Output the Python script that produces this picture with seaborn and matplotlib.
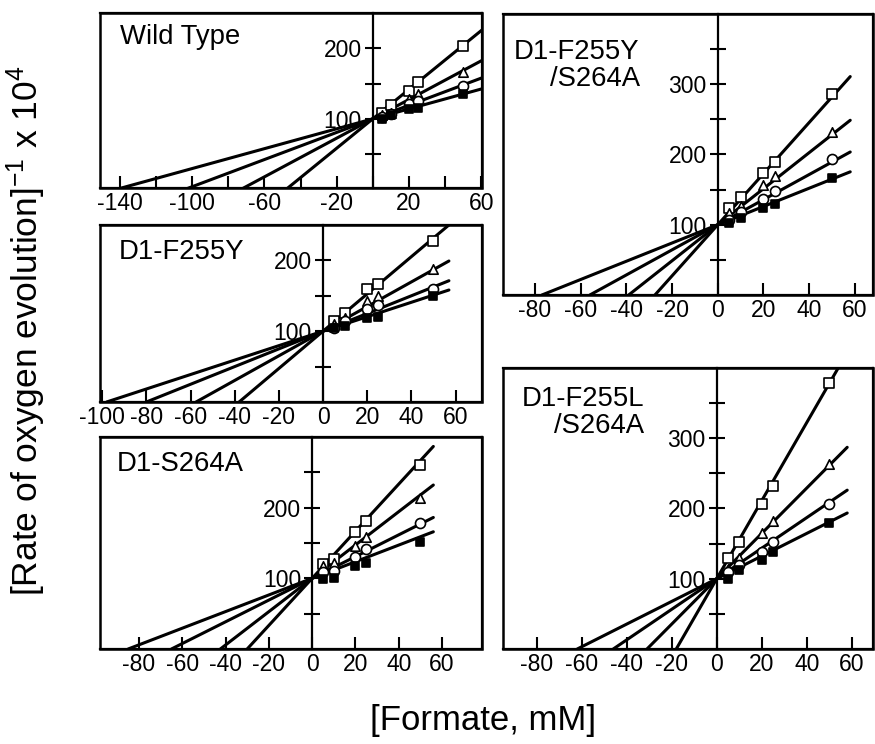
import numpy as np
import pandas as pd
import matplotlib
matplotlib.use("Agg")
import matplotlib.pyplot as plt
from matplotlib.ticker import FixedLocator, FuncFormatter
import seaborn as sns

# formate concentrations (mM) where the rates were measured
conc = [5, 10, 20, 25, 50]
series_names = ["open square", "open triangle", "open circle", "filled square"]

# reciprocal rates, one list per symbol
wt_vals = [[109, 120, 139, 152, 203],
           [105, 109, 128, 135, 166],
           [102, 107, 121, 126, 146],
           [100, 105, 114, 116, 135]]
f255y_vals = [[114, 126, 159, 166, 227],
              [110, 119, 143, 149, 188],
              [105, 114, 131, 137, 160],
              [105, 108, 119, 120, 149]]
s264a_vals = [[120, 128, 165, 181, 261],
              [117, 122, 146, 159, 214],
              [109, 111, 130, 142, 178],
              [99, 101, 118, 122, 152]]
f255y_s264a_vals = [[124, 140, 174, 189, 286],
                    [117, 127, 157, 169, 232],
                    [107, 118, 137, 148, 193],
                    [103, 110, 124, 130, 166]]
f255l_s264a_vals = [[130, 153, 207, 232, 378],
                    [114, 129, 165, 182, 263],
                    [109, 119, 138, 153, 207],
                    [100, 112, 126, 138, 180]]

# x-intercepts (-Ki) of the fitted lines, all lines share the value 100 at x = 0
common_y0 = 100
wt_xint = [-48, -73, -104, -142]
f255y_xint = [-38, -57.5, -80, -98]
s264a_xint = [-30, -42.4, -65, -85]
f255y_s264a_xint = [-27.5, -39, -56, -77]
f255l_s264a_xint = [-18, -31, -46, -62]

panels = [
    dict(name="Wild Type", vals=wt_vals, xint=wt_xint, xlim=(-151, 60.5), ylim=(2, 250),
         xticks=list(range(-140, 61, 20)), xlabels=list(range(-140, 61, 40)), xend=62,
         rect=[0.1143, 0.7473, 0.4366, 0.2352], title_xy=(0.052, 0.94)),
    dict(name="D1-F255Y", vals=f255y_vals, xint=f255y_xint, xlim=(-101, 72), ylim=(0, 250),
         xticks=list(range(-100, 61, 20)), xlabels=list(range(-100, 61, 20)), xend=57,
         rect=[0.1143, 0.4597, 0.4366, 0.2379], title_xy=(0.048, 0.92)),
    dict(name="D1-S264A", vals=s264a_vals, xint=s264a_xint, xlim=(-98, 78.5), ylim=(0, 300),
         xticks=list(range(-80, 61, 20)), xlabels=list(range(-80, 61, 20)), xend=56,
         rect=[0.1143, 0.1277, 0.4366, 0.2849], title_xy=(0.045, 0.935)),
    dict(name="D1-F255Y\n/S264A", vals=f255y_s264a_vals, xint=f255y_s264a_xint, xlim=(-94, 68),
         ylim=(0, 400), xticks=list(range(-80, 61, 20)), xlabels=list(range(-80, 61, 20)), xend=58,
         rect=[0.5749, 0.6035, 0.4229, 0.3777], title_xy=(0.03, 0.91)),
    dict(name="D1-F255L\n/S264A", vals=f255l_s264a_vals, xint=f255l_s264a_xint, xlim=(-95, 69.5),
         ylim=(0, 400), xticks=list(range(-80, 61, 20)), xlabels=list(range(-80, 61, 20)), xend=58,
         rect=[0.5749, 0.1277, 0.4229, 0.3777], title_xy=(0.05, 0.935)),
]

markers = ["s", "^", "o", "s"]
faces = ["white", "white", "white", "black"]
sizes = [46, 46, 52, 40]

sns.set_style("ticks")
plt.rcParams["font.family"] = ["Liberation Sans", "DejaVu Sans"]
plt.rcParams["mathtext.fontset"] = "custom"
plt.rcParams["mathtext.rm"] = "Liberation Sans"
plt.rcParams["mathtext.it"] = "Liberation Sans"
plt.rcParams["text.color"] = "black"
plt.rcParams["xtick.color"] = "black"
plt.rcParams["ytick.color"] = "black"
plt.rcParams["xtick.labelcolor"] = "black"
plt.rcParams["ytick.labelcolor"] = "black"

fig = plt.figure(figsize=(8.75, 7.44), dpi=100)

for p in panels:
    ax = fig.add_axes(p["rect"])
    for i, name in enumerate(series_names):
        # fitted line from the x-intercept through (0, 100)
        xi = p["xint"][i]
        lx = np.array([xi, p["xend"]])
        ly = common_y0 * (1 - lx / xi)
        sns.lineplot(x=lx, y=ly, ax=ax, color="black", lw=2.2, zorder=2)
        df = pd.DataFrame({"conc": conc, "rate": p["vals"][i]})
        sns.scatterplot(data=df, x="conc", y="rate", ax=ax, marker=markers[i],
                        s=sizes[i], color=faces[i], edgecolor="black",
                        linewidth=1.2, zorder=3, clip_on=False)
    ax.set_xlim(p["xlim"])
    ax.set_ylim(p["ylim"])
    ax.set_xlabel("")
    ax.set_ylabel("")

    # y axis sits on x = 0, the frame is drawn by the axes patch
    ax.spines["left"].set_position(("data", 0))
    for s in ["top", "right", "bottom", "left"]:
        ax.spines[s].set_linewidth(1.6)
        ax.spines[s].set_color("black")
    ax.patch.set_edgecolor("black")
    ax.patch.set_linewidth(1.8)

    yt = list(range(50, int(p["ylim"][1]), 50))
    ax.yaxis.set_major_locator(FixedLocator(yt))
    ax.yaxis.set_major_formatter(FuncFormatter(lambda v, pos: f"{int(v)}" if v % 100 == 0 else ""))
    ax.xaxis.set_major_locator(FixedLocator(p["xticks"]))
    labs = p["xlabels"]
    ax.xaxis.set_major_formatter(FuncFormatter(lambda v, pos, labs=labs: f"{int(v)}" if int(v) in labs else ""))
    ax.tick_params(axis="y", direction="inout", length=12, width=1.5, labelsize=16.5, pad=2)
    ax.tick_params(axis="x", direction="in", length=9, width=1.5, labelsize=16.5, pad=3)

    ax.text(p["title_xy"][0], p["title_xy"][1], p["name"], transform=ax.transAxes,
            ha="left", va="top", fontsize=19.8, multialignment="right", linespacing=1.05)

fig.text(0.030, 0.556, r"[Rate of oxygen evolution]$^{-1}$ x 10$^{4}$", rotation=90,
         ha="center", va="center", fontsize=25.5)
fig.text(0.552, 0.032, "[Formate, mM]", ha="center", va="center", fontsize=25)

fig.savefig("out.png", dpi=100)
